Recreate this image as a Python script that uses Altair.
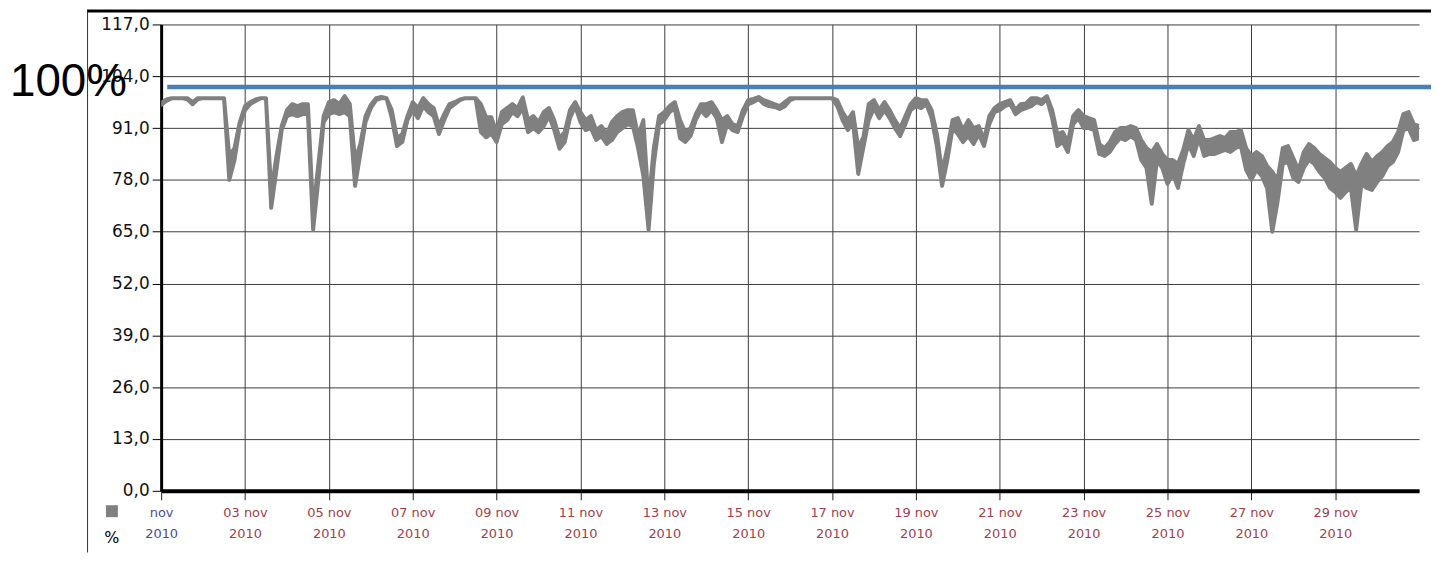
import altair as alt
import pandas as pd

# ---------------- data ----------------
y_ticks = [0, 13, 26, 39, 52, 65, 78, 91, 104, 117]
x_tick_days = [1, 3, 5, 7, 9, 11, 13, 15, 17, 19, 21, 23, 25, 27, 29]
month_label = "nov"
year_label = "2010"
ref_value = 101.3
ref_label = "100%"
unit_label = "%"

# readings every 3 hours from 1 Nov 2010 00:00 (low / high of the noisy band)
lo = [
    96.8, 97.8, 98.5, 98.5, 98.5, 98.2, 97.0, 98.2,
    98.5, 98.5, 98.5, 98.5, 98.5, 78.0, 83.0, 91.5,
    95.5, 97.0, 97.8, 98.5, 98.5, 71.0, 80.5, 90.5,
    94.0, 94.5, 94.0, 94.5, 94.5, 65.5, 78.0, 92.5,
    94.5, 95.0, 94.5, 95.0, 94.0, 76.5, 84.5, 92.5,
    96.0, 98.0, 98.5, 98.5, 93.5, 86.5, 87.5, 93.0,
    95.5, 93.5, 96.5, 95.0, 94.0, 89.5, 93.0, 96.0,
    97.0, 98.0, 98.5, 98.5, 98.5, 90.0, 88.7, 89.6,
    87.5, 92.0, 93.0, 95.0, 94.0, 96.0, 90.0, 91.0,
    90.0, 91.5, 94.0, 90.5, 85.8, 87.5, 93.5, 96.5,
    92.5, 90.5, 91.0, 88.0, 89.0, 87.0, 88.0, 90.0,
    91.0, 92.0, 91.5, 86.0, 79.0, 65.5, 82.0, 92.0,
    93.0, 95.0, 96.0, 88.5, 87.5, 89.0, 93.0, 95.5,
    94.0, 95.5, 93.5, 87.5, 92.0, 90.5, 90.0, 94.0,
    97.0, 97.5, 98.3, 97.0, 96.5, 96.3, 95.8, 96.5,
    98.0, 98.5, 98.5, 98.5, 98.5, 98.5, 98.5, 98.5,
    98.5, 96.5, 93.0, 90.5, 92.5, 79.5, 86.3, 93.0,
    96.0, 93.5, 95.5, 93.5, 91.0, 89.0, 92.0, 95.5,
    96.5, 96.0, 97.0, 93.5, 86.5, 76.5, 83.0, 91.0,
    89.5, 87.5, 89.0, 87.0, 89.5, 86.5, 92.0, 95.0,
    95.5, 96.5, 97.0, 94.5, 95.5, 96.0, 96.5, 97.5,
    97.0, 98.3, 93.5, 86.5, 87.5, 85.0, 92.0, 93.5,
    91.0, 91.0, 90.5, 84.5, 84.0, 85.0, 87.0, 88.5,
    88.0, 89.0, 88.0, 83.0, 81.0, 72.0, 83.0, 81.0,
    77.0, 79.5, 76.0, 82.0, 87.0, 84.0, 88.5, 84.0,
    84.5, 84.5, 85.0, 85.5, 85.0, 86.0, 86.5, 80.5,
    78.0, 80.5, 79.0, 76.0, 65.0, 72.5, 82.0, 82.5,
    78.5, 77.5, 81.0, 83.0, 82.0, 80.0, 78.5, 76.0,
    75.0, 73.5, 75.0, 76.0, 65.5, 77.0, 76.0, 75.5,
    77.5, 79.0, 81.5, 82.5, 85.0, 90.5, 91.0, 88.0,
    88.5,
]
hi = [
    97.3, 98.2, 98.5, 98.5, 98.5, 98.5, 97.5, 98.5,
    98.5, 98.5, 98.5, 98.5, 98.5, 84.0, 86.0, 92.5,
    96.5, 97.5, 98.2, 98.5, 98.5, 75.0, 84.0, 91.5,
    95.5, 97.0, 96.5, 97.0, 97.0, 70.0, 82.0, 94.0,
    97.5, 98.0, 97.0, 99.0, 97.0, 83.0, 87.0, 94.0,
    96.8, 98.5, 98.8, 98.5, 95.5, 88.5, 89.5, 94.0,
    97.5, 96.0, 98.5, 97.0, 96.0, 91.5, 94.5, 97.0,
    97.5, 98.2, 98.5, 98.5, 98.5, 97.0, 93.7, 93.7,
    90.0, 95.0, 96.0, 97.0, 96.0, 98.7, 93.0, 94.0,
    92.5, 95.0, 96.0, 93.0, 88.5, 90.0, 95.5, 97.5,
    95.0, 93.0, 94.0, 90.5, 91.5, 89.5, 92.5, 94.0,
    95.0, 95.5, 95.5, 89.0, 93.0, 72.0, 86.0, 94.0,
    95.0, 96.5, 97.5, 93.0, 90.0, 91.0, 94.5, 97.0,
    97.0, 97.5, 95.5, 93.0, 94.0, 92.0, 91.5, 95.5,
    98.0, 98.3, 98.8, 98.0, 97.5, 97.0, 96.5, 97.5,
    98.5, 98.5, 98.5, 98.5, 98.5, 98.5, 98.5, 98.5,
    98.5, 98.0, 95.0, 93.0, 95.0, 86.0, 88.8, 97.0,
    98.0, 95.5, 97.5, 95.5, 93.0, 91.0, 94.0, 97.0,
    98.5, 98.0, 98.0, 95.5, 89.5, 80.0, 86.0, 93.0,
    93.5, 90.5, 93.0, 91.0, 91.5, 88.0, 94.0, 96.0,
    97.0, 97.5, 98.0, 95.5, 97.0, 97.2, 98.5, 98.5,
    98.0, 99.0, 95.5, 89.5, 90.0, 87.5, 94.0, 95.5,
    94.0, 93.5, 93.0, 87.0, 86.0, 87.5, 90.0, 91.0,
    91.0, 91.5, 91.0, 88.0, 86.0, 85.0, 87.0, 84.5,
    83.0, 83.0, 82.0, 85.5, 90.5, 88.0, 91.5, 88.0,
    88.0, 88.5, 89.0, 88.5, 90.0, 90.0, 90.5, 86.0,
    84.0, 85.0, 84.0, 81.5, 80.0, 78.0, 86.0, 86.5,
    83.5, 80.5, 85.0, 87.0, 86.0, 84.5, 83.5, 82.5,
    81.0, 80.0, 81.0, 82.0, 79.0, 82.0, 84.5, 82.5,
    84.0, 85.0, 86.5, 87.5, 90.0, 94.5, 95.0, 92.0,
    91.5,
]

start = pd.Timestamp("2010-11-01 00:00")
df = pd.DataFrame({
    "t": [start + pd.Timedelta(hours=3 * k) for k in range(len(lo))],
    "lo": lo,
    "hi": hi,
})

ref_df = pd.DataFrame({
    "t1": [pd.Timestamp("2010-11-01 03:30")],
    "t2": [pd.Timestamp("2010-12-01 07:00")],
    "v": [ref_value],
})

# ---------------- scales / axes ----------------
x_domain = [alt.DateTime(year=2010, month=11, date=1),
            alt.DateTime(year=2010, month=12, date=1)]
x_scale = alt.Scale(domain=x_domain, nice=False)
y_scale = alt.Scale(domain=[0, 117], nice=False)

LABEL_FONT = "DejaVu Sans"
BIG_FONT = "Liberation Sans"
GRID = "#3c3c3c"

x_axis = alt.Axis(
    values=[alt.DateTime(year=2010, month=11, date=d) for d in x_tick_days],
    labelExpr=(
        f"[timeFormat(datum.value, '%d') == '01' ? '{month_label}' : "
        f"timeFormat(datum.value, '%d') + ' {month_label}', '{year_label}']"
    ),
    labelColor={
        "condition": {"test": "timeFormat(datum.value, '%d') == '01'",
                      "value": "#4a4a96"},
        "value": "#a0404e",
    },
    labelFont=LABEL_FONT,
    labelFontSize=13,
    labelLineHeight=20.5,
    labelPadding=7,
    labelAngle=0,
    labelFlush=False,
    labelOverlap=False,
    title=None,
    grid=True,
    gridColor=GRID,
    gridWidth=1,
    domainColor="black",
    domainWidth=4,
    tickColor="#222222",
    tickSize=9,
    tickWidth=1,
)

y_axis = alt.Axis(
    values=y_ticks,
    labelExpr="replace(format(datum.value, '.1f'), '.', ',')",
    labelFont=LABEL_FONT,
    labelFontSize=17,
    labelColor="#111111",
    labelPadding=3,
    labelFlush=False,
    title=None,
    grid=True,
    gridColor=GRID,
    gridWidth=1,
    domainColor="black",
    domainWidth=3,
    tickColor="black",
    tickSize=9,
    tickWidth=1,
)

band = alt.Chart(df).mark_area(
    color="#808080", fill="#808080", stroke="#808080", strokeWidth=4,
    strokeJoin="round", interpolate="linear", opacity=1, clip=True
).encode(
    x=alt.X("t:T", scale=x_scale, axis=x_axis),
    y=alt.Y("lo:Q", scale=y_scale, axis=y_axis),
    y2="hi:Q",
)

ref_rule = alt.Chart(ref_df).mark_rule(
    color="#4a7ebb", strokeWidth=4.5, clip=False
).encode(
    x=alt.X("t1:T", scale=x_scale),
    x2="t2:T",
    y=alt.Y("v:Q", scale=y_scale),
)

deco = pd.DataFrame({"a": [0]})

ref_text = alt.Chart(deco).mark_text(
    text=ref_label, font=BIG_FONT, fontSize=46, color="black",
    align="left", baseline="alphabetic", clip=False
).encode(x=alt.value(-152), y=alt.value(72))

legend_sq = alt.Chart(deco).mark_square(
    color="#808080", opacity=1, filled=True, size=144, clip=False
).encode(x=alt.value(-49.5), y=alt.value(489.5))

unit_text = alt.Chart(deco).mark_text(
    text=unit_label, font=LABEL_FONT, fontSize=16, color="black",
    align="center", baseline="middle", clip=False
).encode(x=alt.value(-49.5), y=alt.value(516))

frame_left = alt.Chart(deco).mark_rule(
    color="#333333", strokeWidth=1, clip=False
).encode(x=alt.value(-74), y=alt.value(-15), y2=alt.value(531))

frame_top = alt.Chart(deco).mark_rule(
    color="black", strokeWidth=3, clip=False
).encode(x=alt.value(-74), x2=alt.value(1277), y=alt.value(-13.5))

chart = alt.layer(
    band, ref_rule, ref_text, legend_sq, unit_text, frame_left, frame_top
).properties(
    width=1265,
    height=469,
    autosize=alt.AutoSizeParams(type="none"),
    padding={"left": 154, "top": 15, "right": 12, "bottom": 62},
    background="white",
).configure_view(stroke=None)

chart.save("out.html", embed_options={"renderer": "svg", "actions": False})
